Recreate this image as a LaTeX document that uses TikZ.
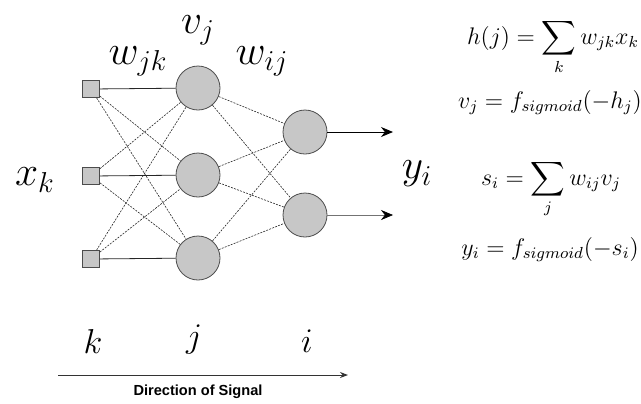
\documentclass[tikz,border=0pt]{standalone}
\usepackage{amsmath}
\usepackage{fontspec}
\newfontfamily\signalfont{Liberation Sans}
\usetikzlibrary{positioning,arrows.meta}

\begin{document}
\begin{tikzpicture}[
    x=0.5pt, y=-0.5pt,
    inp/.style={draw, black!70, fill=black!22, minimum size=8.5pt,
                inner sep=0pt, line width=0.4pt},
    unit/.style={circle, draw, black!70, fill=black!22, minimum size=22pt,
                 inner sep=0pt, line width=0.4pt},
    wire/.style={black!85, line width=0.3pt, dash pattern=on 1pt off 0.6pt},
    link/.style={black!85, line width=0.4pt},
    lbl/.style={font=\huge, inner sep=1pt},
    eq/.style={anchor=base, font=\large, inner sep=1pt},
    op/.style={-{Stealth[length=6pt, width=5pt]}, line width=0.45pt},
  ]
  \useasboundingbox (0,0) rectangle (641,403);

  % --- input layer k ---
  \node[inp] (k1) at (91,89) {};
  \node[inp] (k2) at (91,176) {};
  \node[inp] (k3) at (91,259) {};
  % --- hidden layer j ---
  \node[unit] (j1) at (198,88) {};
  \node[unit] (j2) at (198,175) {};
  \node[unit] (j3) at (198,258) {};
  % --- output layer i ---
  \node[unit] (i1) at (305,132) {};
  \node[unit] (i2) at (305,215) {};

  % --- weights w_jk ---
  \draw[link] (k1) -- (j1); \draw[link] (k2) -- (j2); \draw[link] (k3) -- (j3);
  \draw[wire] (k1) -- (j2); \draw[wire] (k1) -- (j3);
  \draw[wire] (k2) -- (j1); \draw[wire] (k2) -- (j3);
  \draw[wire] (k3) -- (j1); \draw[wire] (k3) -- (j2);
  % --- weights w_ij ---
  \draw[wire] (j1) -- (i1); \draw[wire] (j1) -- (i2);
  \draw[wire] (j2) -- (i1); \draw[wire] (j2) -- (i2);
  \draw[wire] (j3) -- (i1); \draw[wire] (j3) -- (i2);

  % --- outputs ---
  \coordinate (o1) at (393,132);
  \coordinate (o2) at (393,215);
  \draw[op] (i1) -- (o1);
  \draw[op, line width=0.3pt, black!55, -{Stealth[length=6pt, width=5pt, color=black]}] (i2) -- (o2);

  % --- labels ---
  \node[lbl] (vj) at (198,30) {$v_j$};
  \node[lbl] (wjk) at (138,61) {$w_{jk}$};
  \node[lbl] (wij) at (262,61) {$w_{ij}$};
  \node[lbl] (xk) at (35,180) {$x_k$};
  \node[lbl] (yi) at (417,174) {$y_i$};

  % --- layer indices and signal direction ---
  \node[font=\LARGE] (lk) at (93,341) {$k$};
  \node[font=\LARGE] (lj) at (194,340) {$j$};
  \node[font=\LARGE] (li) at (307,341) {$i$};
  \coordinate (d0) at (58,375);
  \coordinate (d1) at (348,375);
  \draw[line width=0.5pt, black!80, -{Stealth[length=4pt, width=3pt]}] (d0) -- (d1);
  \node[font=\signalfont\bfseries\fontsize{7.3}{8}\selectfont] (dir) at (198,392)
    {Direction of Signal};

  % --- equations ---
  \node[eq] (eqh) at (553,44) {$\displaystyle h(j)=\sum_k w_{jk}x_k$};
  \node[eq] (eqv) at (550,108) {$v_j=f_{sigmoid}(-h_j)$};
  \node[eq] (eqs) at (551,185) {$\displaystyle s_i=\sum_j w_{ij}v_j$};
  \node[eq] (eqy) at (550,255) {$y_i=f_{sigmoid}(-s_i)$};
\end{tikzpicture}
\end{document}
